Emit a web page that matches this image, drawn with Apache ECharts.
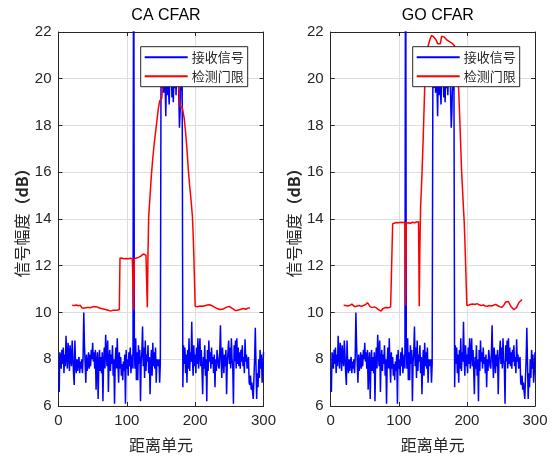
<!DOCTYPE html>
<html><head><meta charset="utf-8">
<script src="https://cdn.jsdelivr.net/npm/echarts@6/dist/echarts.min.js"></script>
<style>html,body{margin:0;padding:0;background:#fff}#c{width:560px;height:458px}</style>
</head><body><div id="c"></div>
<script>
// received signal (dB), range cells 1..300
var signal = [
6.6,8.3,8.1,7.6,8.4,7.8,8.5,7.4,8.2,7.7,
9.0,8.1,7.6,8.7,8.3,7.5,8.6,8.0,7.7,8.8,
8.2,7.4,6.9,8.8,7.8,7.4,8.0,7.5,7.9,8.1,
7.4,7.9,7.6,8.0,7.4,8.1,10.0,8.6,7.8,7.0,
8.2,7.5,7.8,8.3,7.6,8.2,7.7,8.4,8.0,8.7,
7.9,8.3,7.6,8.4,6.7,7.9,8.3,6.3,7.8,8.4,
7.5,8.1,7.4,8.3,6.2,7.9,8.5,7.6,9.05,8.3,
7.7,8.8,6.6,8.0,8.4,7.5,8.2,7.8,8.6,7.3,
8.0,6.1,7.9,8.5,7.6,8.9,7.8,7.0,8.3,7.6,
8.1,7.3,7.8,7.1,7.9,7.5,8.2,6.1,8.4,7.6,
8.0,7.3,8.3,7.7,8.5,7.4,7.9,8.2,7.6,30,
8.4,7.6,8.9,7.1,8.3,7.1,8.6,7.8,8.4,6.2,
7.9,8.3,9.4,7.7,8.5,7.2,8.8,7.5,8.2,7.9,
8.6,7.4,8.1,6.5,7.8,8.4,7.3,8.7,7.7,8.3,
7.6,8.5,7.0,8.0,7.9,7.7,8.0,7.0,7.8,
19.8,20.6,19.6,20.9,19.4,20.3,19.9,18.4,20.5,19.3,
20.8,19.5,18.9,20.2,19.7,20.7,19.2,20.4,19.0,20.1,
19.6,20.9,19.3,20.3,19.8,20.6,19.4,17.9,18.6,20.0,
19.5,19.9,
6.8,8.6,7.8,8.5,7.4,8.2,7.0,8.4,7.6,
8.9,7.5,8.3,7.9,9.6,8.0,7.3,8.6,7.7,8.2,
7.4,8.5,7.8,8.9,7.6,8.3,8.9,7.7,8.4,7.5,
6.5,8.1,7.6,8.6,7.3,8.0,6.2,8.4,7.5,8.8,
7.9,8.3,7.6,8.5,7.8,8.1,7.4,8.2,6.8,8.0,
7.5,8.4,8.1,7.7,7.6,8.3,9.45,7.9,7.2,8.5,
8.0,7.4,8.2,7.7,8.4,6.5,7.9,8.3,8.8,7.8,
8.5,7.6,8.9,8.0,7.7,6.1,8.6,7.9,8.8,7.6,
8.9,7.8,8.5,7.7,
8.3,7.6,8.4,7.9,8.6,7.7,8.1,7.4,8.85,7.9,
8.2,7.6,7.9,8.1,7.0,6.9,7.3,6.7,7.0,6.6,
6.3,7.2,8.0,9.35,7.8,6.3,7.4,6.8,8.0,7.2,
8.4,7.6,8.2,7.0,7.5,8.3
];

// CA-CFAR threshold (cell, dB)
var caX = [20,23,26,29,32,34,35,37,40,43,46,49,52,54,56,58,61,64,67,70,73,76,78,80,82,84,86,89,
  90,93,96,99,102,105,108,109,110,111,114,117,120,122,124,126,128,129,130,131,132,134,136,138,140,142,144,146,148,
  150,151,152,153,155,158,162,166,170,174,176,177,178,181,182,184,186,188,190,192,194,196,197,198,199,
  200,203,206,209,212,215,218,221,224,227,230,233,236,238,241,244,247,250,253,256,259,262,265,268,271,274,277,280];
var caY = [10.31,10.30,10.32,10.29,10.31,10.2,10.12,10.18,10.2,10.22,10.2,10.23,10.26,10.28,10.24,10.2,10.18,10.16,10.14,10.12,10.1,10.06,10.04,10.1,10.13,10.1,10.12,10.12,
  12.33,12.32,12.3,12.31,12.3,12.32,12.3,12.31,10.1,12.31,12.33,12.36,12.4,12.48,12.5,12.42,12.45,12.44,10.22,12.6,14.1,15.0,15.9,16.6,17.2,17.7,18.2,18.7,19.05,
  19.1,19.15,19.5,19.8,20.1,20.2,20.3,20.3,20.2,20.0,19.7,19.2,18.8,18.8,18.75,18.3,17.7,17.0,16.1,15.4,14.8,14.1,13.4,12.5,11.4,
  10.27,10.25,10.27,10.28,10.27,10.3,10.32,10.33,10.3,10.25,10.2,10.16,10.13,10.12,10.15,10.2,10.24,10.26,10.2,10.14,10.08,10.1,10.12,10.15,10.17,10.14,10.18,10.2];

// GO-CFAR threshold (cell, dB)
var goX = [19,22,25,28,31,33,35,37,39,42,45,48,51,54,56,58,61,64,67,70,72,74,76,79,82,85,88,90,
  91,94,97,100,103,106,108,109,110,111,114,117,120,123,126,129,130,131,132,133,134,136,138,140,142,144,146,148,
  149,151,153,155,157,159,161,163,165,167,169,171,173,175,177,179,181,182,184,186,188,190,192,194,196,197,198,199,
  200,203,206,209,212,215,218,221,224,227,230,233,236,239,242,245,248,251,254,257,259,261,263,265,267,269,271,273,275,277,279,281];
var goY = [10.31,10.3,10.28,10.3,10.36,10.42,10.25,10.2,10.28,10.3,10.26,10.3,10.33,10.42,10.38,10.24,10.22,10.24,10.2,10.12,10.08,10.06,10.15,10.2,10.21,10.2,10.24,10.25,
  13.8,13.83,13.85,13.84,13.86,13.85,13.88,13.86,10.3,13.82,13.84,13.82,13.86,13.84,13.87,13.88,10.27,12.8,14.5,15.2,15.9,17.6,19.6,20.8,21.3,21.5,21.7,21.85,
  21.85,21.8,21.75,21.65,21.5,21.45,21.5,21.82,21.85,21.78,21.72,21.65,21.6,21.58,21.55,21.5,21.45,21.4,21.0,20.5,19.5,17.9,16.2,15.0,13.9,13.1,12.2,11.2,
  10.3,10.32,10.35,10.36,10.34,10.38,10.33,10.3,10.32,10.28,10.27,10.3,10.28,10.31,10.35,10.3,10.25,10.22,10.3,10.45,10.52,10.47,10.35,10.25,10.18,10.12,10.12,10.22,10.35,10.45,10.48,10.55];

var titles = ['CA CFAR', 'GO CFAR'];
var xTicks = [0, 100, 200, 300];
var yTicks = [6, 8, 10, 12, 14, 16, 18, 20, 22];
var nameSig = '接收信号', nameThr = '检测门限';

function pairs(xs, ys) { return xs.map(function (x, i) { return [x, ys[i]]; }); }
var sigData = signal.map(function (v, i) { return [i + 1, v]; });

var latin = "'Liberation Sans', Arial, sans-serif";
var cjk = "'Noto Sans CJK SC', sans-serif";
var ink = '#262626';
var grids = [
  {left: 58.5, top: 32, width: 205, height: 376},
  {left: 330.7, top: 32, width: 204.3, height: 376}
];

var xAxes = [], yAxes = [], series = [], legends = [], titleArr = [];
grids.forEach(function (g, k) {
  var base = {
    type: 'value', gridIndex: k, min: xTicks[0], max: xTicks[xTicks.length - 1], interval: 100,
    axisLine: {show: true, onZero: false, lineStyle: {color: ink, width: 1}},
    axisTick: {show: true, inside: true, length: 4, lineStyle: {color: ink}},
    splitLine: {show: false}
  };
  xAxes.push(Object.assign({}, base, {
    position: 'bottom',
    axisLabel: {color: ink, fontSize: 15, fontFamily: latin, margin: 7},
    splitLine: {show: true, lineStyle: {color: '#dedede', width: 1}},
    name: '距离单元', nameLocation: 'middle', nameGap: 31,
    nameTextStyle: {color: ink, fontSize: 16, fontFamily: cjk}
  }));
  xAxes.push(Object.assign({}, base, {position: 'top', axisLabel: {show: false}}));
  var ybase = {
    type: 'value', gridIndex: k, min: yTicks[0], max: yTicks[yTicks.length - 1], interval: 2,
    axisLine: {show: true, onZero: false, lineStyle: {color: ink, width: 1}},
    axisTick: {show: true, inside: true, length: 4, lineStyle: {color: ink}},
    splitLine: {show: false}
  };
  yAxes.push(Object.assign({}, ybase, {
    position: 'left',
    axisLabel: {color: ink, fontSize: 15, fontFamily: latin, margin: 7},
    splitLine: {show: true, lineStyle: {color: '#dedede', width: 1}},
    name: '信号幅度{b|（dB）}', nameLocation: 'middle', nameGap: 29, nameRotate: 90,
    nameTextStyle: {color: ink, fontSize: 16, fontFamily: cjk,
      rich: {b: {fontSize: 16, fontWeight: 'bold', fontFamily: cjk, color: ink}}}
  }));
  yAxes.push(Object.assign({}, ybase, {position: 'right', axisLabel: {show: false}}));

  series.push({
    name: nameSig, type: 'line', xAxisIndex: 2 * k, yAxisIndex: 2 * k,
    data: sigData, showSymbol: false, symbol: 'none', clip: true,
    lineStyle: {color: '#0000ff', width: 1.5}, itemStyle: {color: '#0000ff'}, animation: false
  });
  series.push({
    name: nameThr, type: 'line', xAxisIndex: 2 * k, yAxisIndex: 2 * k,
    data: k === 0 ? pairs(caX, caY) : pairs(goX, goY), showSymbol: false, symbol: 'none', clip: true,
    lineStyle: {color: '#ff0000', width: 1.5}, itemStyle: {color: '#ff0000'}, animation: false
  });

  legends.push({
    data: [nameSig, nameThr], orient: 'vertical',
    left: k === 0 ? 140.7 : 412.7, top: 46.7,
    icon: 'rect', itemWidth: 43, itemHeight: 2, itemGap: 6,
    padding: [4, 4, 4, 4],
    backgroundColor: '#ffffff', borderColor: ink, borderWidth: 1, borderRadius: 0,
    textStyle: {color: ink, fontSize: 13, fontFamily: cjk, padding: [0, 0, 0, -1]},
    selectedMode: false
  });
  titleArr.push({
    text: titles[k], left: g.left + g.width / 2, textAlign: 'center', top: 3,
    textStyle: {color: '#000', fontSize: 16, fontWeight: 'normal', fontFamily: latin}
  });
});

var chart = echarts.init(document.getElementById('c'), null, {renderer: 'canvas'});
chart.setOption({
  animation: false,
  backgroundColor: '#ffffff',
  title: titleArr,
  grid: grids,
  xAxis: xAxes,
  yAxis: yAxes,
  legend: legends,
  series: series
});
</script></body></html>
